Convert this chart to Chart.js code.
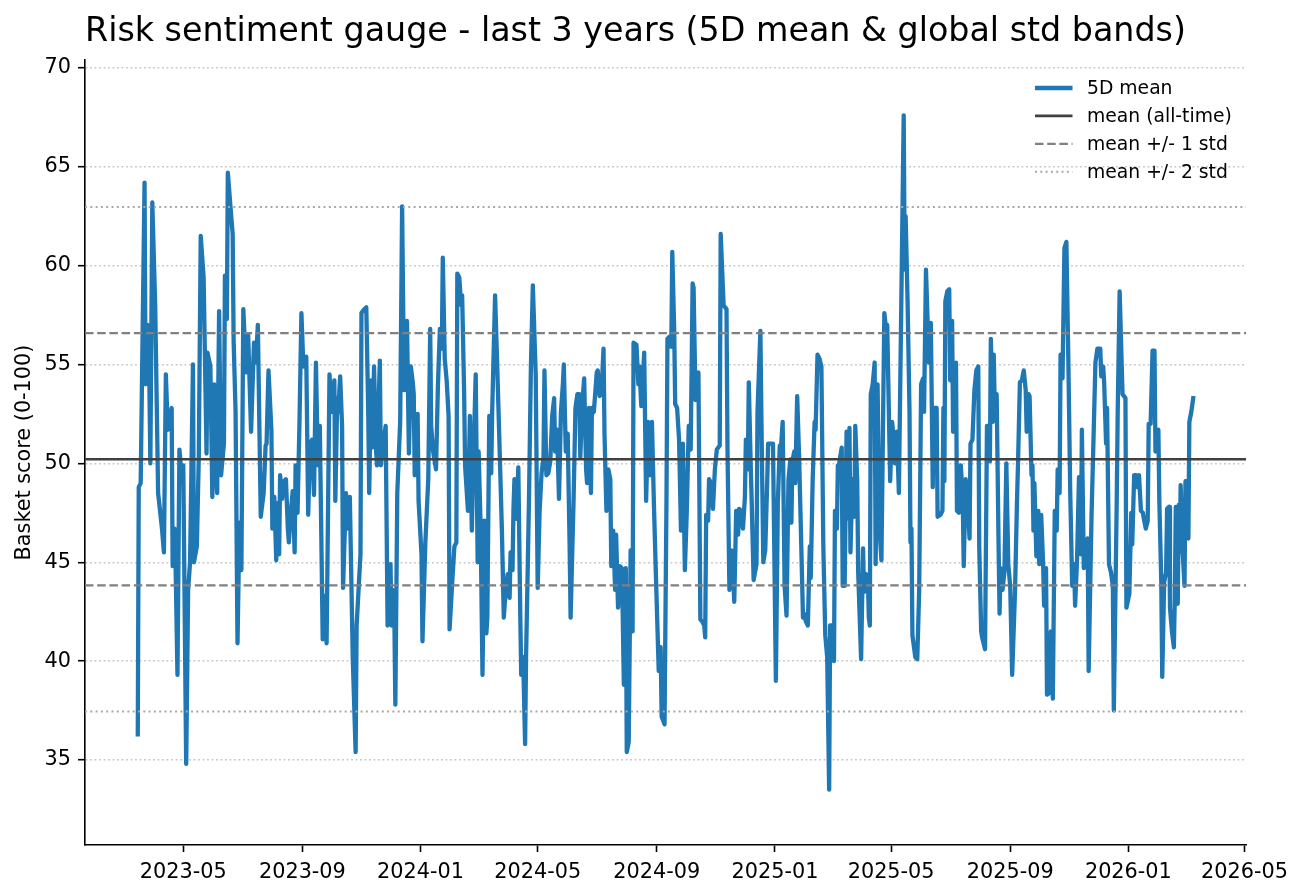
<!DOCTYPE html>
<html>
<head>
<meta charset="utf-8">
<script src="https://cdn.jsdelivr.net/npm/chart.js@4.4.1/dist/chart.umd.min.js"></script>
<style>
html,body{margin:0;padding:0;background:#fff;}
#wrap{width:1304px;height:896px;position:relative;}
canvas{display:block;}
</style>
</head>
<body>
<div id="wrap"><canvas id="c" width="1304" height="896"></canvas></div>
<script>
// ---------------- data ----------------
const chartTitle = 'Risk sentiment gauge - last 3 years (5D mean & global std bands)';
const yAxisLabel = 'Basket score (0-100)';
const seriesLabels = ['5D mean', 'mean (all-time)', 'mean +/- 1 std', 'mean +/- 2 std'];

const startDate = '2023-03-15';            // first 5D-mean observation
// days elapsed since startDate for each plotted observation
const dayOffsets = [
  0,1,3,7,8,10,12,13,15,18,21,25,27,29,31,35,36,38,39,41,43,46,47,50,52,54,57,58,61,63,65,68,71,72,75,77,79,81,82,84,86,89,90,92,93,96,98,99,101,103,105,107,109,
  112,114,117,120,122,124,127,130,132,133,135,138,139,141,143,145,146,147,149,151,153,155,156,158,160,162,163,165,167,169,171,174,176,178,180,182,184,186,188,191,193,195,198,200,203,204,206,207,209,211,212,215,217,219,
  222,225,226,229,230,231,234,236,238,239,241,242,244,246,247,250,251,253,254,256,258,261,262,263,265,266,268,271,273,275,277,278,280,282,284,285,286,289,290,293,294,297,300,302,303,305,308,310,312,314,315,317,319,321,322,325,327,329,330,332,334,335,
  337,338,341,343,345,346,349,351,352,354,356,358,360,361,363,365,366,369,371,373,376,378,380,382,384,385,387,388,389,391,393,395,396,398,400,401,404,406,408,411,413,415,417,419,420,422,424,426,428,430,431,433,435,437,439,440,442,444,446,447,450,
  452,454,456,457,459,461,463,464,466,468,469,471,474,475,477,479,481,482,484,486,488,489,491,493,494,496,498,500,502,504,505,507,509,511,512,515,517,518,520,523,525,527,529,531,533,535,538,540,541,544,546,547,549,551,552,554,555,557,559,561,563,
  565,567,569,571,573,574,576,577,579,581,583,585,586,587,589,590,592,594,596,598,601,602,605,608,609,611,613,614,616,618,620,621,623,625,627,628,630,631,633,634,636,639,640,643,644,646,648,650,651,654,656,659,661,663,664,666,668,670,672,674,675,676,
  678,679,681,683,684,687,688,690,692,694,695,697,699,700,702,704,706,708,710,712,714,715,717,719,720,722,723,724,727,728,730,732,734,735,736,738,740,741,743,744,747,749,750,752,754,755,756,757,759,761,762,764,766,768,771,773,774,777,779,780,782,784,786,
  791,792,793,795,797,798,799,800,803,805,807,809,811,812,814,816,817,819,821,822,825,826,829,831,832,833,834,836,838,839,841,842,844,845,846,848,850,852,853,855,857,859,860,862,864,866,868,869,871,872,875,877,878,880,881,883,884,885,887,889,890,891,893,895,897,899,901,903,
  906,908,909,911,913,915,917,918,920,921,923,924,925,926,928,930,931,933,935,936,938,939,942,943,945,947,949,950,952,953,955,957,959,961,963,965,967,968,970,972,974,975,977,979,981,982,985,987,989,991,994,995,997,998,1000,1001,1003,1005,1007,1008,1011,1012,1014,
  1017,1020,1021,1024,1026,1027,1029,1031,1032,1034,1036,1038,1039,1041,1043,1044,1046,1048,1050,1051,1052,1054,1055,1057,1058,1060,1062,1063,1065,1066,1068,1070,1071,1072,1074,1075,1076,1077,1079,1081,1082,1083,1085,1086,1088,1090
];
// 5-day mean of the basket score
const scores = [
  36.3,48.8,49.0,64.2,54.0,57.0,54.0,50.0,63.2,58.0,48.5,46.7,45.5,54.5,51.7,52.8,44.8,46.7,45.0,39.3,50.7,49.0,49.9,34.8,43.6,45.0,55.0,45.0,45.8,50.3,61.5,59.4,50.5,55.6,54.9,48.3,54.0,49.4,48.5,57.7,49.4,51.0,59.5,57.3,64.7,62.8,61.6,56.2,52.6,40.9,47.0,44.6,57.8,
  54.6,56.5,51.6,56.1,55.1,57.0,47.3,48.5,50.9,51.0,54.7,51.7,46.7,48.3,45.1,48.0,45.4,49.4,48.2,49.1,49.2,46.7,46.0,47.5,48.6,45.5,49.9,47.5,52.1,57.6,54.9,55.4,47.4,51.0,51.2,48.4,55.1,49.9,51.9,41.1,43.3,40.9,54.5,52.6,54.2,48.1,53.3,52.6,54.4,51.9,43.7,48.5,46.7,48.3,
  40.2,35.4,41.8,44.5,45.4,57.6,57.8,57.9,52.6,48.5,54.2,50.8,54.9,50.8,49.9,55.2,49.9,50.8,51.2,51.9,41.8,44.9,41.8,43.6,42.2,37.8,48.5,52.1,63.0,53.7,54.9,57.2,50.5,54.9,54.1,53.5,49.4,52.5,48.1,45.4,41.0,46.0,49.2,56.8,51.9,50.6,49.7,54.0,56.8,55.8,60.4,55.3,54.2,52.4,41.6,44.2,45.8,46.0,59.6,59.4,58.0,58.5,
  53.7,49.9,47.6,52.4,46.6,49.0,54.5,45.0,50.6,47.0,39.3,47.1,41.4,42.2,52.4,49.5,52.6,58.5,55.3,51.9,46.7,42.2,43.6,44.4,43.2,45.5,44.6,47.7,49.2,47.2,49.8,42.4,39.3,40.2,35.8,40.2,48.1,54.9,59.0,54.4,43.7,47.6,49.5,50.3,54.7,49.4,49.5,50.1,52.4,53.3,50.6,51.7,48.2,52.6,54.0,55.0,50.6,51.5,45.8,42.2,48.0,
  52.8,53.5,53.5,50.3,53.0,54.3,49.7,49.0,52.8,48.5,52.8,52.6,54.6,54.7,53.4,53.7,55.8,51.5,47.6,49.7,49.2,44.8,46.6,43.6,46.4,42.7,44.8,44.7,38.8,44.7,35.4,35.9,45.6,41.5,56.1,56.0,54.0,54.9,52.9,55.6,48.1,52.1,49.4,52.1,48.0,44.5,39.5,40.7,37.2,36.8,48.1,56.3,56.4,55.9,60.7,56.7,53.0,52.8,51.2,46.6,51.0,
  44.6,47.6,51.9,50.7,59.1,58.9,53.2,54.5,54.6,42.1,42.0,41.8,41.2,47.4,47.1,49.2,49.0,47.7,49.7,50.7,50.9,61.6,58.0,57.8,50.8,43.6,45.6,45.4,43.0,47.6,46.4,47.7,47.6,46.7,48.3,51.2,49.7,54.1,49.9,48.1,44.1,44.9,52.6,56.7,52.5,45.0,45.6,49.0,51.0,51.0,51.0,39.0,48.0,50.9,50.6,52.1,43.8,42.3,49.2,50.2,47.0,50.1,
  50.6,49.0,53.4,50.3,48.3,42.2,42.4,42.0,41.8,45.8,44.2,49.2,52.1,51.7,55.5,55.3,54.9,45.8,41.3,40.2,33.5,41.8,41.8,40.0,47.6,46.7,49.9,49.9,50.8,43.8,43.8,51.6,47.2,51.8,45.5,49.2,47.3,51.9,49.1,44.5,40.1,45.7,43.5,44.4,44.2,42.2,41.8,53.5,54.0,55.1,44.9,54.0,46.7,45.1,57.6,56.7,57.0,49.1,52.1,51.6,50.0,51.6,48.5,
  67.6,59.8,62.5,58.2,52.6,46.0,46.7,41.3,40.2,40.1,43.6,54.0,54.3,52.6,59.8,56.7,55.1,57.1,48.8,52.8,52.8,47.3,47.4,47.6,52.8,49.1,58.2,58.7,58.8,54.2,57.2,51.6,51.7,55.1,47.6,47.5,49.9,48.1,44.8,49.2,48.1,46.2,51.0,51.2,53.7,54.7,54.9,45.8,41.5,41.2,40.6,51.9,51.9,50.1,56.3,52.1,55.5,52.8,53.5,45.8,42.4,44.7,43.6,44.5,50.0,44.9,43.8,39.3,
  43.6,48.1,49.9,54.1,54.2,54.7,53.7,51.6,53.5,53.4,49.4,49.9,46.6,49.0,45.3,47.6,44.9,47.4,44.9,42.8,44.7,38.3,38.4,41.5,38.1,47.6,46.6,49.7,48.5,55.5,54.3,60.9,61.2,55.3,48.5,43.8,44.9,42.8,45.1,49.3,45.4,51.7,44.7,46.0,46.2,39.5,47.4,51.2,55.1,55.8,55.8,54.4,54.9,54.1,51.0,52.8,44.9,44.5,43.8,37.5,48.1,52.6,58.7,
  53.5,53.3,42.7,43.4,47.5,45.9,49.4,49.4,48.8,49.4,47.6,47.5,47.2,46.7,47.1,52.0,52.0,55.7,55.7,50.6,50.8,51.7,48.1,44.0,39.2,44.0,44.5,47.7,47.8,42.7,41.5,40.7,43.3,47.8,42.9,47.9,45.5,48.9,45.6,43.8,49.1,49.1,46.2,52.1,52.6,53.3
];
const allTimeMean = 50.21;
const allTimeStd = 6.38;

const xTickMonths = ['2023-05','2023-09','2024-01','2024-05','2024-09','2025-01','2025-05','2025-09','2026-01','2026-05'];
const yTicks = [35, 40, 45, 50, 55, 60, 65, 70];
const yLimits = [30.7, 70.4];

// ---------------- helpers ----------------
const DAY_MS = 86400000;
function dayNum(iso) {
  const p = iso.split('-').map(Number);
  return Date.UTC(p[0], p[1] - 1, p[2] || 1) / DAY_MS;
}
function fmtMonth(v) {
  const d = new Date(Math.round(v) * DAY_MS);
  return d.getUTCFullYear() + '-' + String(d.getUTCMonth() + 1).padStart(2, '0');
}
const FONT = '"DejaVu Sans", "Liberation Sans", sans-serif';
const start = dayNum(startDate);
const n = Math.min(dayOffsets.length, scores.length);
const points = [];
for (let i = 0; i < n; i++) points.push({x: start + dayOffsets[i], y: scores[i]});
const xFirst = points[0].x, xLast = points[n - 1].x;
const xPad = 0.05 * (xLast - xFirst);
const xMin = xFirst - xPad, xMax = xLast + xPad;
const hline = v => [{x: xMin, y: v}, {x: xMax, y: v}];

const BLUE = '#1f77b4';
const meanStyle = {borderColor: '#404040', borderWidth: 2.6, borderDash: []};
const std1Style = {borderColor: '#808080', borderWidth: 2.2, borderDash: [8.5, 3.7]};
const std2Style = {borderColor: '#a8a8a8', borderWidth: 2.0, borderDash: [2, 3.3]};

const datasets = [
  {label: seriesLabels[0], data: points, borderColor: BLUE, borderWidth: 4.3, order: 1,
   borderJoinStyle: 'round', borderCapStyle: 'square', showInLegend: true},
  Object.assign({label: seriesLabels[1], data: hline(allTimeMean), showInLegend: true}, meanStyle),
  Object.assign({label: seriesLabels[2], data: hline(allTimeMean + allTimeStd), showInLegend: true}, std1Style),
  Object.assign({label: seriesLabels[2], data: hline(allTimeMean - allTimeStd), showInLegend: false}, std1Style),
  Object.assign({label: seriesLabels[3], data: hline(allTimeMean + 2 * allTimeStd), showInLegend: true}, std2Style),
  Object.assign({label: seriesLabels[3], data: hline(allTimeMean - 2 * allTimeStd), showInLegend: false}, std2Style)
];
datasets.forEach(d => { d.pointRadius = 0; d.pointHoverRadius = 0; d.fill = false; d.tension = 0; if (d.order === undefined) d.order = 0; });

// ---------------- plugins ----------------
const titleAndLegend = {
  id: 'titleAndLegend',
  afterDraw(chart) {
    const {ctx, chartArea} = chart;
    ctx.save();
    // title
    ctx.fillStyle = '#000';
    ctx.font = '33.3px ' + FONT;
    ctx.textAlign = 'left';
    ctx.textBaseline = 'alphabetic';
    ctx.fillText(chartTitle, chartArea.left, 41);
    // legend (frameless, upper right, inside axes)
    const items = chart.data.datasets.filter(d => d.showInLegend);
    ctx.font = '18.75px ' + FONT;
    ctx.textBaseline = 'middle';
    items.forEach((d, i) => {
      const y = chartArea.top + 28 + i * 27.9;
      ctx.beginPath();
      ctx.setLineDash(d.borderDash || []);
      ctx.lineCap = 'butt';
      ctx.lineWidth = d.borderWidth;
      ctx.strokeStyle = d.borderColor;
      ctx.moveTo(chartArea.right - 211, y);
      ctx.lineTo(chartArea.right - 173.5, y);
      ctx.stroke();
      ctx.setLineDash([]);
      ctx.fillStyle = '#000';
      ctx.fillText(d.label, chartArea.right - 159, y + 1);
    });
    ctx.restore();
  }
};

// ---------------- chart ----------------
new Chart(document.getElementById('c'), {
  type: 'line',
  data: {datasets},
  options: {
    responsive: false,
    devicePixelRatio: 1,
    animation: false,
    events: [],
    layout: {padding: {top: 60, right: 58, left: 0, bottom: 0}},
    plugins: {legend: {display: false}, tooltip: {enabled: false}, title: {display: false}},
    scales: {
      x: {
        type: 'linear',
        min: xMin, max: xMax,
        afterFit: s => { s.height = 51; },
        afterBuildTicks: s => { s.ticks = xTickMonths.map(m => ({value: dayNum(m)})); },
        ticks: {autoSkip: false, maxRotation: 0, minRotation: 0, padding: 8, color: '#000',
                font: {family: FONT, size: 20.8}, callback: v => fmtMonth(v)},
        grid: {display: true, drawOnChartArea: false, drawTicks: true, tickLength: 7,
               tickColor: '#000', tickWidth: 1.6},
        border: {display: true, color: '#000', width: 1.6}
      },
      y: {
        type: 'linear',
        min: yLimits[0], max: yLimits[1],
        afterFit: s => { s.width = 85; },
        afterBuildTicks: s => { s.ticks = yTicks.map(v => ({value: v})); },
        ticks: {padding: 7, color: '#000', font: {family: FONT, size: 20.8}, callback: v => String(v)},
        grid: {display: true, drawOnChartArea: true, drawTicks: true, tickLength: 7,
               color: 'rgba(170,170,170,0.7)', lineWidth: 1.4,
               tickColor: '#000', tickWidth: 1.6, tickBorderDash: []},
        border: {display: true, color: '#000', width: 1.6, dash: [1.7, 2.8]},
        title: {display: true, text: yAxisLabel, color: '#000',
                font: {family: FONT, size: 20.8}, padding: {top: 12, bottom: 0}}
      }
    }
  },
  plugins: [titleAndLegend]
});
</script>
</body>
</html>
